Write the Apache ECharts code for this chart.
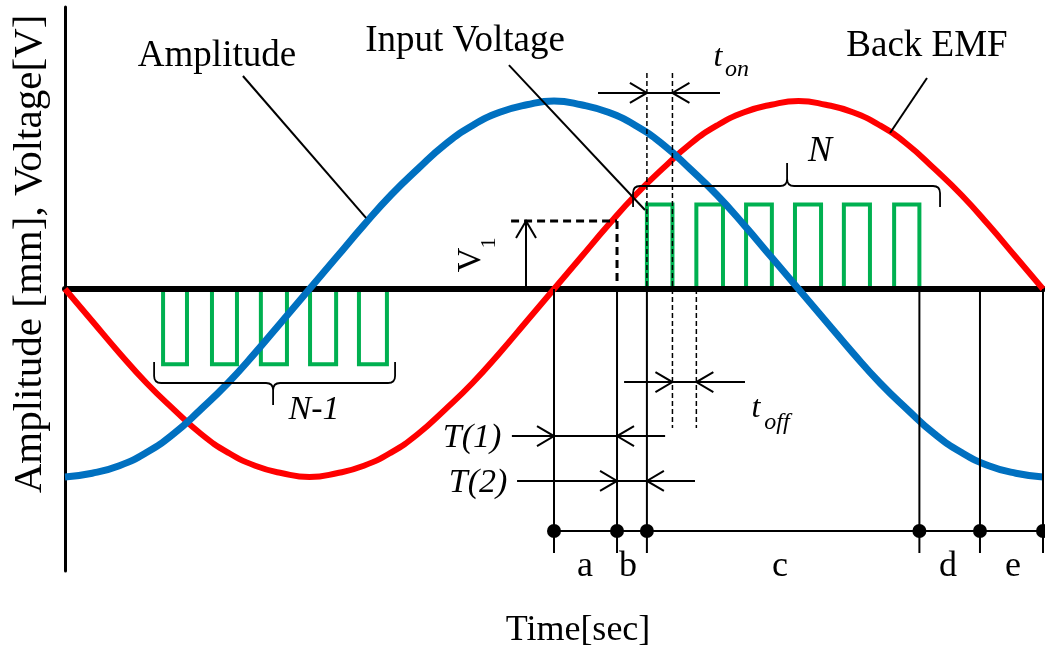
<!DOCTYPE html>
<html>
<head>
<meta charset="utf-8">
<script src="https://cdn.jsdelivr.net/npm/echarts/dist/echarts.min.js"></script>
<style>
  html, body { margin: 0; padding: 0; background: #fff; }
  #main { width: 1045px; height: 657px; }
</style>
</head>
<body>
<div id="main"></div>
<script>
// one electrical period across the plot, in degrees
var phase = [0, 10, 20, 30, 40, 50, 60, 70, 80, 90, 100, 110, 120, 130, 140, 150, 160, 170, 180,
  190, 200, 210, 220, 230, 240, 250, 260, 270, 280, 290, 300, 310, 320, 330, 340, 350, 360];
var amplitude = [-1.00, -0.98, -0.94, -0.87, -0.77, -0.64, -0.50, -0.34, -0.17, 0.00, 0.17, 0.34, 0.50,
  0.64, 0.77, 0.87, 0.94, 0.98, 1.00, 0.98, 0.94, 0.87, 0.77, 0.64, 0.50, 0.34, 0.17, 0.00,
  -0.17, -0.34, -0.50, -0.64, -0.77, -0.87, -0.94, -0.98, -1.00];
var backEmf = [0.00, -0.17, -0.34, -0.50, -0.64, -0.77, -0.87, -0.94, -0.98, -1.00, -0.98, -0.94, -0.87,
  -0.77, -0.64, -0.50, -0.34, -0.17, 0.00, 0.17, 0.34, 0.50, 0.64, 0.77, 0.87, 0.94, 0.98, 1.00,
  0.98, 0.94, 0.87, 0.77, 0.64, 0.50, 0.34, 0.17, 0.00];

// input voltage pulses (N-1 negative, N positive)
var negPulseOn = [36.1, 54.1, 72.1, 90.2, 108.2];
var negPulseOff = [44.9, 63.3, 81.7, 99.8, 118.5];
var negPulseLevel = -0.40;
var posPulseOn = [214.2, 232.4, 250.7, 268.7, 286.7, 305.2];
var posPulseOff = [223.6, 242.2, 260.2, 278.3, 296.3, 314.5];
var posPulseLevel = 0.45;

// annotation segments [x1, y1, x2, y2]
var solidSegments = [
  [180, 0, 180, -1.404], [203.2, 0, 203.2, -1.404], [214.2, 0, 214.2, -1.404],
  [314.5, 0, 314.5, -1.404], [336.8, 0, 336.8, -1.404], [360, 0, 360, -1.404],
  [180, -1.287, 360, -1.287],
  [164.5, -0.782, 220.9, -0.782],
  [166.4, -1.021, 231.9, -1.021],
  [196.2, 1.043, 241.1, 1.043],
  [205.8, -0.495, 250.3, -0.495],
  [169.7, 0, 169.7, 0.362]
];
var leaderSegments = [
  [65.5, 1.133, 110.8, 0.378],
  [163.4, 1.191, 213.5, 0.420],
  [317.3, 1.122, 303.7, 0.830]
];
var thinDashed = [
  [214.2, 1.149, 214.2, 0], [223.6, 1.149, 223.6, -0.739], [232.4, 0, 232.4, -0.739]
];
var thickDashed = [
  [164.2, 0.362, 203.2, 0.362], [203.2, 0.362, 203.2, 0]
];
// arrow tips [x, y, dirX, dirY]
var arrowTips = [
  [214.2, 1.043, 1, 0], [223.6, 1.043, -1, 0],
  [223.6, -0.495, 1, 0], [232.4, -0.495, -1, 0],
  [180, -0.782, 1, 0], [203.2, -0.782, -1, 0],
  [203.2, -1.021, 1, 0], [214.2, -1.021, -1, 0],
  [169.7, 0.362, 0, 1]
];
var markerDots = [[180, -1.287], [203.2, -1.287], [214.2, -1.287], [314.5, -1.287], [336.8, -1.287], [360, -1.287]];
// braces [xStart, xEnd, xTip, yLine, yEnds, yTip]
var braces = [
  [32.8, 121.5, 76.6, -0.500, -0.388, -0.617],
  [209.1, 322.1, 265.8, 0.548, 0.436, 0.670]
];

function pulseTrain(on, off, level) {
  var pts = [];
  on.forEach(function (t, i) {
    pts.push([t, 0], [t, level], [off[i], level], [off[i], 0]);
  });
  return pts;
}

function segmentSeries(data, style, z) {
  return {
    type: 'custom', data: data, z: z, silent: true, clip: false,
    renderItem: function (params, api) {
      var a = api.coord([api.value(0), api.value(1)]);
      var b = api.coord([api.value(2), api.value(3)]);
      return { type: 'line', shape: { x1: a[0], y1: a[1], x2: b[0], y2: b[1] }, style: style };
    }
  };
}

var serif = '"Liberation Serif", "Times New Roman", serif';
function label(text, x, y, size, italic, rotation) {
  var font = (italic ? 'italic ' : '') + size + 'px ' + serif;
  return {
    type: 'text', x: x, y: y, rotation: rotation || 0, z: 20,
    style: {
      text: text, font: font, fill: '#000',
      align: 'center', verticalAlign: 'middle',
      textAlign: 'center', textVerticalAlign: 'middle'
    }
  };
}

var myChart = echarts.init(document.getElementById('main'));

var option = {
  animation: false,
  backgroundColor: '#fff',
  grid: { left: 65, right: 2, top: 7, bottom: 86, containLabel: false, outerBoundsMode: 'none' },
  xAxis: {
    type: 'value', min: 0, max: 360, z: 2,
    axisLine: { show: true, onZero: true, lineStyle: { color: '#000', width: 6 } },
    axisTick: { show: false }, axisLabel: { show: false }, splitLine: { show: false }
  },
  yAxis: {
    type: 'value', min: -1.5, max: 1.5, z: 2,
    axisLine: { show: true, lineStyle: { color: '#000', width: 3 } },
    axisTick: { show: false }, axisLabel: { show: false }, splitLine: { show: false }
  },
  graphic: [
    label('Amplitude', 217, 56, 37),
    label('Input Voltage', 465, 41, 37),
    label('Back EMF', 927, 46, 37),
    label('Time[sec]', 578, 631, 36),
    label('Amplitude [mm], Voltage[V]', 30, 254, 41, false, Math.PI / 2),
    label('N-1', 314, 410, 34, true),
    label('N', 820, 152, 36, true),
    label('t', 718, 58, 32, true),
    label('on', 737, 70, 24, true),
    label('t', 756, 409, 32, true),
    label('off', 777, 423, 24, true),
    label('T(1)', 472, 438, 34, true),
    label('T(2)', 478, 483, 34, true),
    label('V', 471, 260, 34, false, Math.PI / 2),
    label('1', 489, 243, 22, false, Math.PI / 2),
    label('a', 585, 567, 36),
    label('b', 628, 567, 36),
    label('c', 780, 567, 36),
    label('d', 948, 567, 36),
    label('e', 1013, 567, 36)
  ],
  series: [
    {
      name: 'Input Voltage (N-1)', type: 'line', z: 1, symbol: 'none',
      data: pulseTrain(negPulseOn, negPulseOff, negPulseLevel),
      lineStyle: { color: '#00b050', width: 4, join: 'miter' }
    },
    {
      name: 'Input Voltage (N)', type: 'line', z: 1, symbol: 'none',
      data: pulseTrain(posPulseOn, posPulseOff, posPulseLevel),
      lineStyle: { color: '#00b050', width: 4, join: 'miter' }
    },
    {
      name: 'Back EMF', type: 'line', z: 3, symbol: 'none', smooth: true,
      data: phase.map(function (p, i) { return [p, backEmf[i]]; }),
      lineStyle: { color: '#ff0000', width: 6 }
    },
    {
      name: 'Amplitude', type: 'line', z: 4, symbol: 'none', smooth: true,
      data: phase.map(function (p, i) { return [p, amplitude[i]]; }),
      lineStyle: { color: '#0070c0', width: 7 }
    },
    segmentSeries(solidSegments, { stroke: '#000', lineWidth: 2 }, 6),
    segmentSeries(leaderSegments, { stroke: '#000', lineWidth: 2 }, 6),
    segmentSeries(thinDashed, { stroke: '#000', lineWidth: 1.5, lineDash: [5, 3] }, 6),
    segmentSeries(thickDashed, { stroke: '#000', lineWidth: 3, lineDash: [8, 5] }, 6),
    {
      type: 'custom', data: arrowTips, z: 6, silent: true, clip: false,
      renderItem: function (params, api) {
        var tip = api.coord([api.value(0), api.value(1)]);
        var ux = api.value(2), uy = -api.value(3);
        var px = -uy, py = ux, L = 17, H = 10;
        return {
          type: 'polyline',
          shape: { points: [
            [tip[0] - ux * L + px * H, tip[1] - uy * L + py * H],
            tip,
            [tip[0] - ux * L - px * H, tip[1] - uy * L - py * H]
          ] },
          style: { stroke: '#000', lineWidth: 2, fill: 'none' }
        };
      }
    },
    {
      type: 'custom', data: markerDots, z: 7, silent: true, clip: false,
      renderItem: function (params, api) {
        var c = api.coord([api.value(0), api.value(1)]);
        return { type: 'circle', shape: { cx: c[0], cy: c[1], r: 7 }, style: { fill: '#000' } };
      }
    },
    {
      type: 'custom', data: braces, z: 6, silent: true, clip: false,
      renderItem: function (params, api) {
        var s = api.coord([api.value(0), api.value(3)]);
        var e = api.coord([api.value(1), api.value(3)]);
        var t = api.coord([api.value(2), api.value(5)]);
        var yEnd = api.coord([0, api.value(4)])[1];
        var yl = s[1], r = 7;
        var d = yEnd > yl ? 1 : -1;
        var path = 'M' + s[0] + ',' + yEnd +
          ' L' + s[0] + ',' + (yl + d * r) +
          ' Q' + s[0] + ',' + yl + ' ' + (s[0] + r) + ',' + yl +
          ' L' + (t[0] - r) + ',' + yl +
          ' Q' + t[0] + ',' + yl + ' ' + t[0] + ',' + (yl - d * r) +
          ' L' + t[0] + ',' + t[1] +
          ' M' + t[0] + ',' + (yl - d * r) +
          ' Q' + t[0] + ',' + yl + ' ' + (t[0] + r) + ',' + yl +
          ' L' + (e[0] - r) + ',' + yl +
          ' Q' + e[0] + ',' + yl + ' ' + e[0] + ',' + (yl + d * r) +
          ' L' + e[0] + ',' + yEnd;
        return { type: 'path', shape: { pathData: path }, style: { stroke: '#000', lineWidth: 1.8, fill: 'none' } };
      }
    }
  ]
};

myChart.setOption(option);
</script>
</body>
</html>
